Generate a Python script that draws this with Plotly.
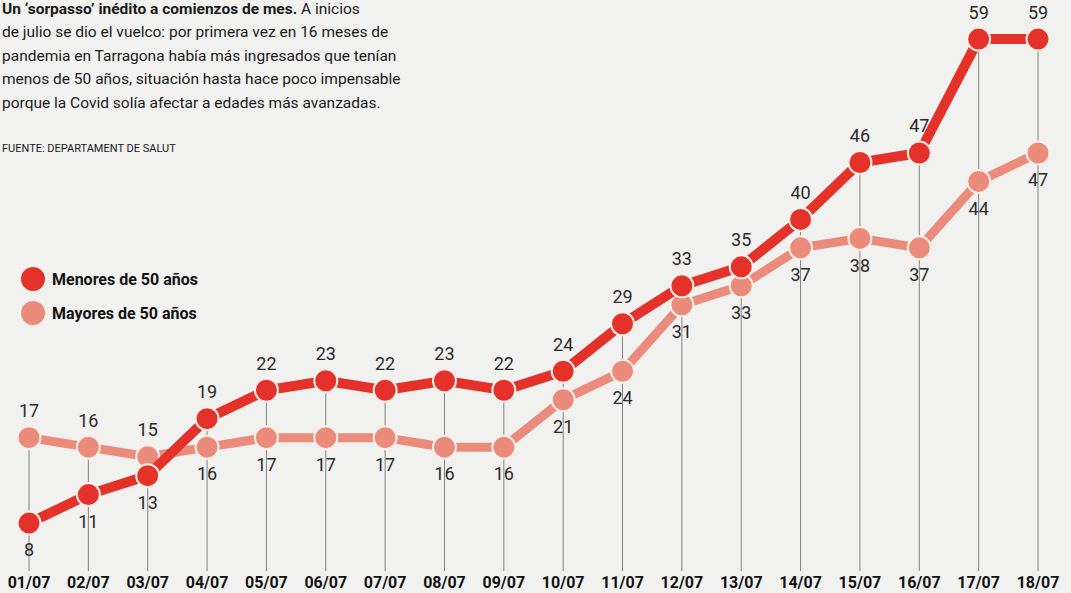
import plotly.graph_objects as go

dates = ["01/07", "02/07", "03/07", "04/07", "05/07", "06/07", "07/07", "08/07", "09/07",
         "10/07", "11/07", "12/07", "13/07", "14/07", "15/07", "16/07", "17/07", "18/07"]
menores = [8, 11, 13, 19, 22, 23, 22, 23, 22, 24, 29, 33, 35, 40, 46, 47, 59, 59]
mayores = [17, 16, 15, 16, 17, 17, 17, 16, 16, 21, 24, 31, 33, 37, 38, 37, 44, 47]
menores_pos = ["bottom center"] * 3 + ["top center"] * 15
mayores_pos = ["top center"] * 3 + ["bottom center"] * 15

title_lines = [
    "<b>Un ‘sorpasso’ inédito a comienzos de mes.</b> A inicios",
    "de julio se dio el vuelco: por primera vez en 16 meses de",
    "pandemia en Tarragona había más ingresados que tenían",
    "menos de 50 años, situación hasta hace poco impensable",
    "porque la Covid solía afectar a edades más avanzadas.",
]
source = "FUENTE: DEPARTAMENT DE SALUT"
legend_names = ["Menores de 50 años", "Mayores de 50 años"]

RED = "#E4322B"
SALMON = "#EA8B7B"
BG = "#F1F1EF"

W, H = 1071, 593
MB = 22
PH = H - MB
Y_BOTTOM = (599 - PH) / 9.49
Y_TOP = 599 / 9.49


def py(p):
    return (PH - p) / PH


fig = go.Figure()

# drop lines
base = Y_BOTTOM - 0.5
dx, dy = [], []
for d, a, b in zip(dates, menores, mayores):
    dx += [d, d, None]
    dy += [max(a, b), base, None]
fig.add_trace(go.Scatter(x=dx, y=dy, mode="lines", line=dict(color="#808080", width=1),
                         hoverinfo="skip", showlegend=False))

lab_font = dict(family="Roboto, Open Sans, sans-serif", size=18, color="#2a2a2a")


def series(vals, pos, col, lw, name):
    fig.add_trace(go.Scatter(
        x=dates, y=vals, mode="lines+markers", name=name,
        line=dict(color=col, width=lw),
        marker=dict(size=23, color=col, line=dict(color="#fbefe9", width=2)),
        cliponaxis=False, showlegend=False, hoverinfo="x+y"))
    # value labels (invisible larger markers give a little more room)
    fig.add_trace(go.Scatter(
        x=dates, y=vals, mode="markers+text",
        marker=dict(size=[24 if p.startswith("top") else 30 for p in pos], opacity=0),
        text=[str(v) for v in vals], textposition=pos, textfont=lab_font,
        cliponaxis=False, showlegend=False, hoverinfo="skip"))


series(mayores, mayores_pos, SALMON, 9, legend_names[1])
series(menores, menores_pos, RED, 10, legend_names[0])

annotations = []
title_y = [9, 32, 56, 79, 103]
for t, yy in zip(title_lines, title_y):
    annotations.append(dict(text=t, x=0, y=py(yy), xref="paper", yref="paper",
                            xanchor="left", yanchor="middle", showarrow=False, align="left",
                            font=dict(family="Roboto, sans-serif", size=15.5, color="#1a1a1a")))
annotations.append(dict(text=source, x=0, y=py(148), xref="paper", yref="paper",
                        xanchor="left", yanchor="middle", showarrow=False,
                        font=dict(family="Roboto, sans-serif", size=11, color="#1a1a1a")))

shapes = []
for name, col, yy in zip(legend_names, [RED, SALMON], [279, 313]):
    shapes.append(dict(type="circle", xref="paper", yref="paper",
                       xsizemode="pixel", ysizemode="pixel",
                       xanchor=33 / W, yanchor=py(yy), x0=-12, x1=12, y0=-12, y1=12,
                       fillcolor=col, line=dict(width=0), layer="above"))
    annotations.append(dict(text="<b>" + name + "</b>", x=50 / W, y=py(yy), xref="paper", yref="paper",
                            xanchor="left", yanchor="middle", showarrow=False,
                            font=dict(family="Roboto, sans-serif", size=16, color="#111111")))

fig.update_layout(
    width=W, height=H,
    margin=dict(l=0, r=0, t=0, b=MB),
    paper_bgcolor=BG, plot_bgcolor=BG,
    showlegend=False,
    xaxis=dict(type="category", range=[-29 / 59.35, 17 + 33 / 59.35],
               showgrid=False, zeroline=False, showline=False, ticks="",
               tickfont=dict(family="Roboto, sans-serif", size=16, color="#111111", weight="bold")),
    yaxis=dict(range=[Y_BOTTOM, Y_TOP], visible=False),
    annotations=annotations, shapes=shapes,
)

fig.write_html("out.html", config={"displayModeBar": False})

# remove the browser's default page margin so the figure fills the window
with open("out.html", encoding="utf-8") as f:
    html = f.read()
html = html.replace("<head>", "<head><style>html,body{margin:0;padding:0;overflow:hidden;background:%s}</style>" % BG, 1)
with open("out.html", "w", encoding="utf-8") as f:
    f.write(html)
